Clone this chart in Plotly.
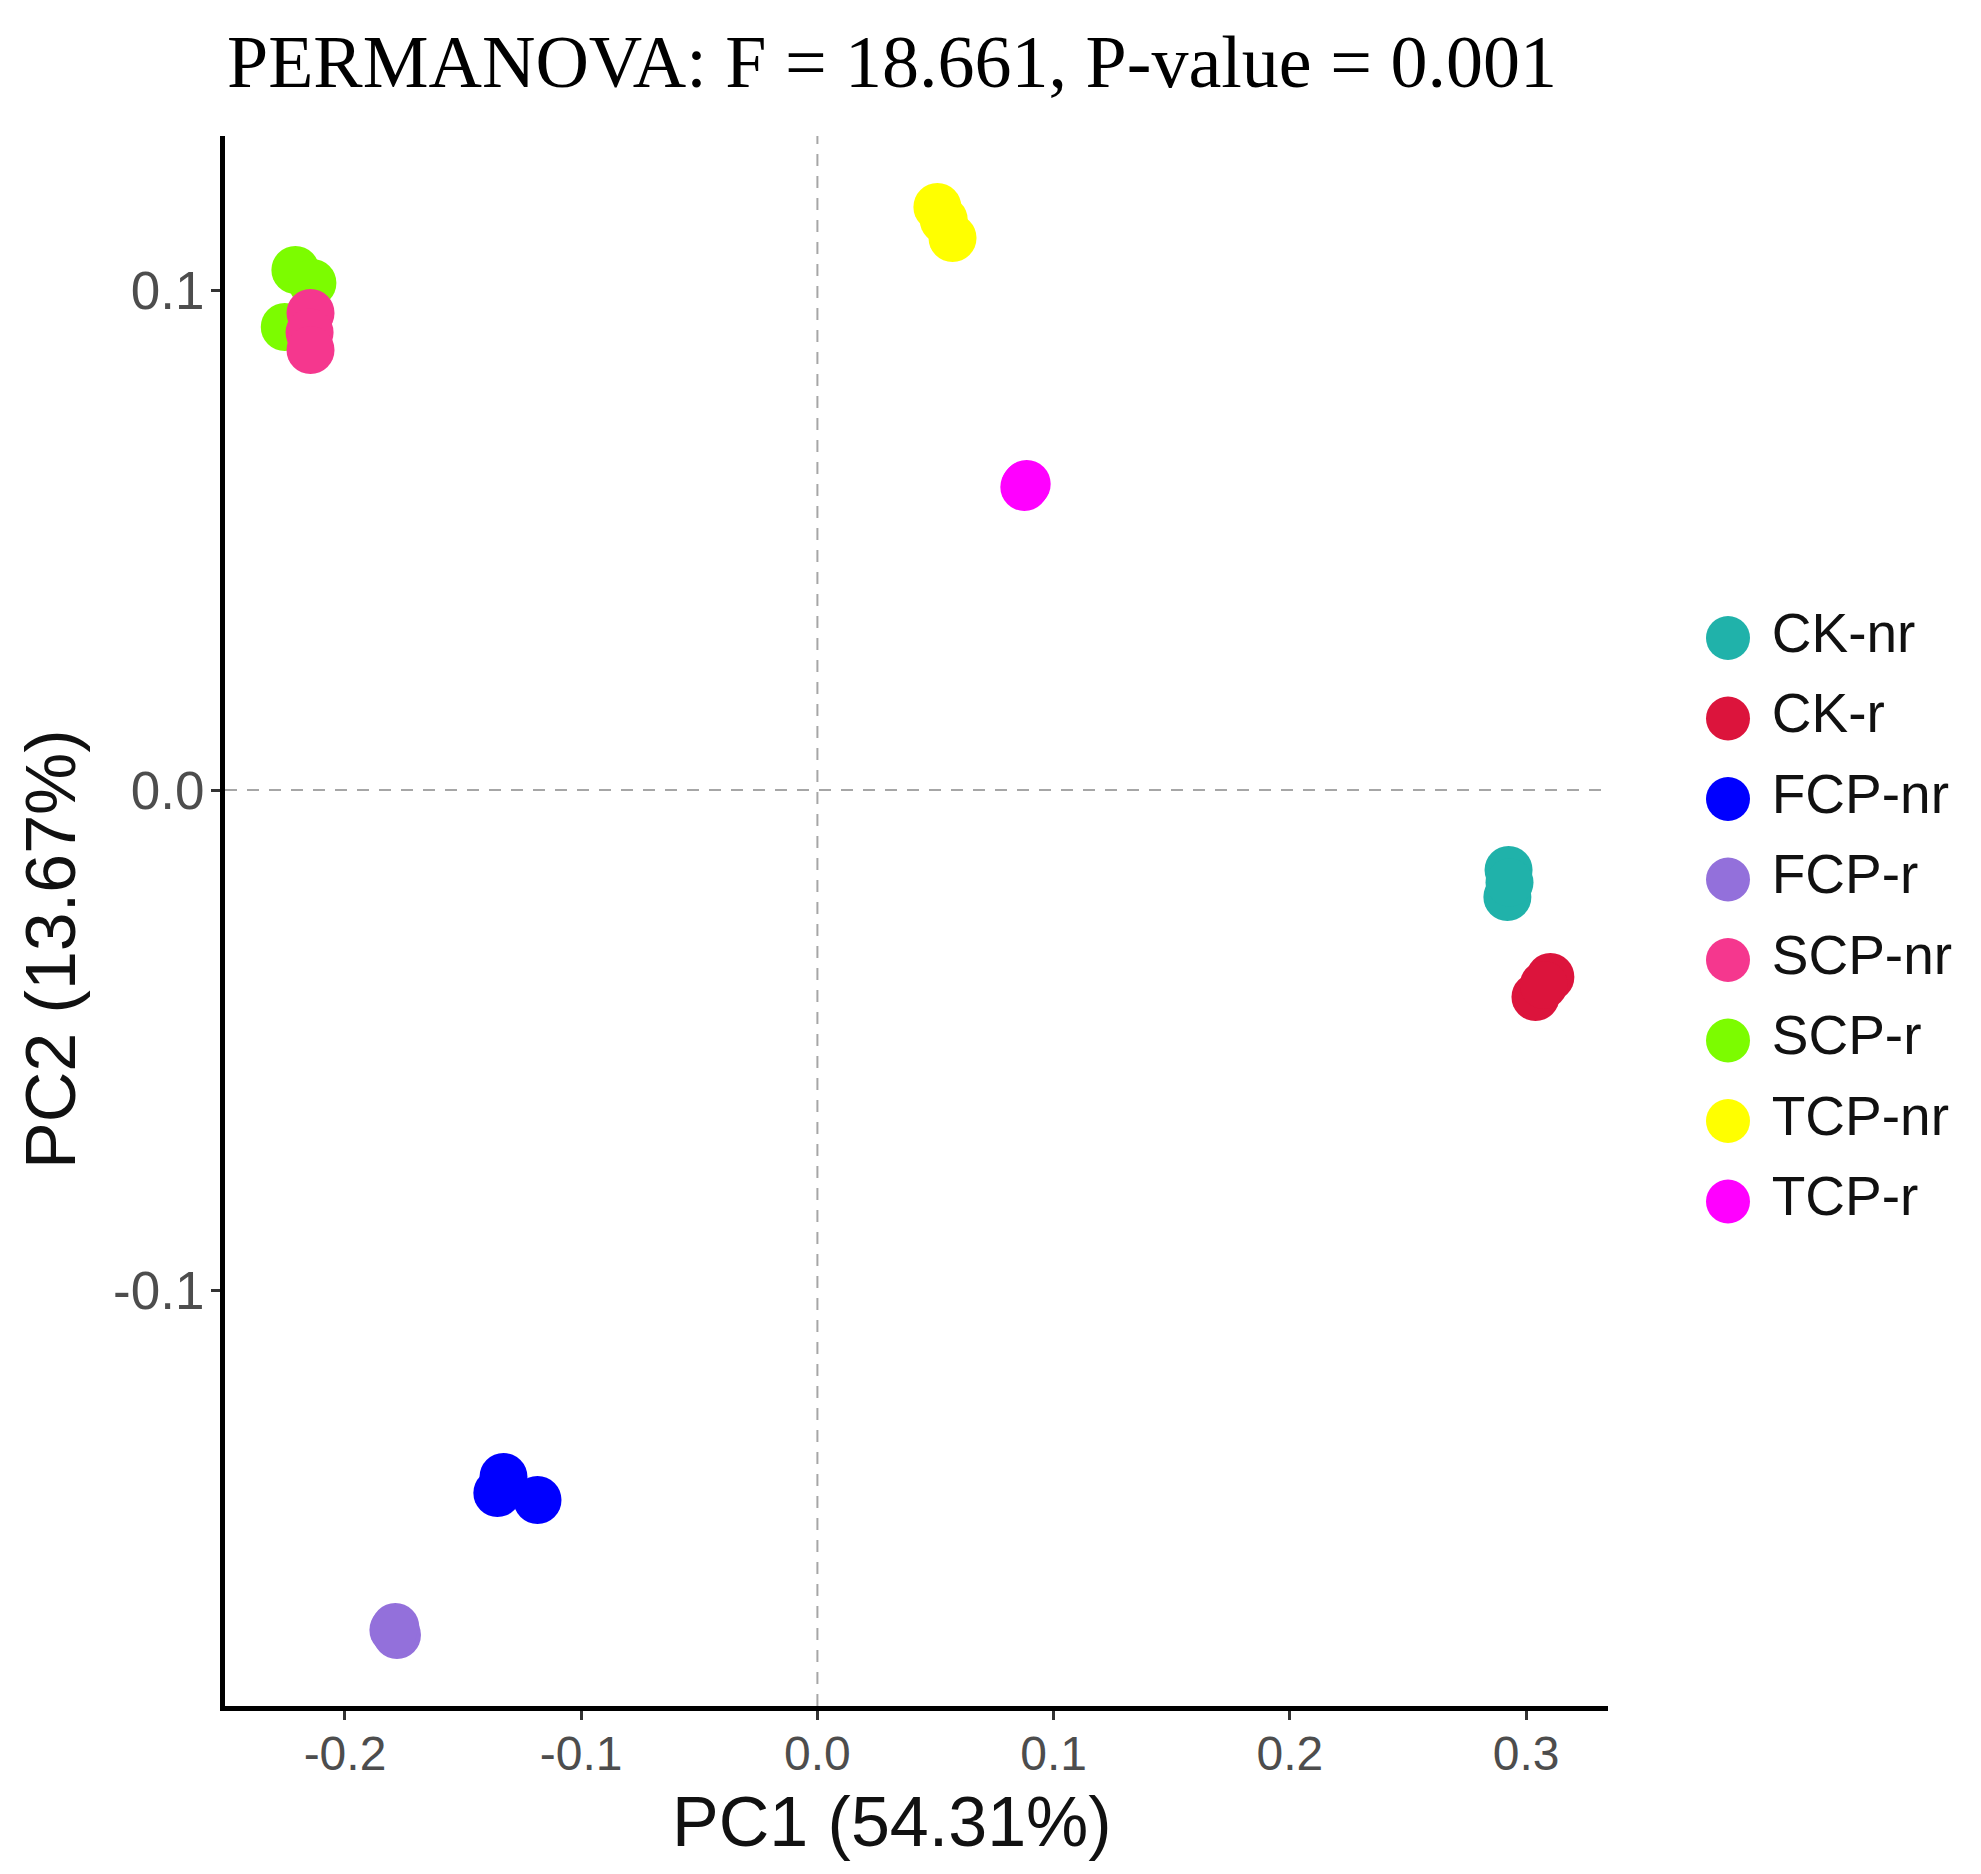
import plotly.graph_objects as go

# ---------- data ----------
groups = ["CK-nr", "CK-r", "FCP-nr", "FCP-r", "SCP-nr", "SCP-r", "TCP-nr", "TCP-r"]
colors = ["#20B2AA", "#DC143C", "#0000FF", "#9370DB",
          "#F5378E", "#7CFC00", "#FFFF00", "#FF00FF"]

pc1 = {
    "CK-nr": [0.2926, 0.2921, 0.2930],
    "CK-r": [0.3103, 0.3040, 0.3075],
    "FCP-nr": [-0.1329, -0.1355, -0.1185],
    "FCP-r": [-0.1787, -0.1780, -0.1795],
    "SCP-nr": [-0.2146, -0.2150, -0.2146],
    "SCP-r": [-0.2210, -0.2138, -0.2255],
    "TCP-nr": [0.0508, 0.0572, 0.0535],
    "TCP-r": [0.0881, 0.0886, 0.0876],
}
pc2 = {
    "CK-nr": [-0.0160, -0.0214, -0.0185],
    "CK-r": [-0.0374, -0.0414, -0.0390],
    "FCP-nr": [-0.1374, -0.1406, -0.1420],
    "FCP-r": [-0.1674, -0.1690, -0.1680],
    "SCP-nr": [0.0954, 0.0915, 0.0880],
    "SCP-r": [0.1040, 0.1014, 0.0926],
    "TCP-nr": [0.1166, 0.1104, 0.1140],
    "TCP-r": [0.0610, 0.0612, 0.0606],
}

x_ticks = [-0.2, -0.1, 0.0, 0.1, 0.2, 0.3]
x_ticklabels = ["-0.2", "-0.1", "0.0", "0.1", "0.2", "0.3"]
y_ticks = [-0.1, 0.0, 0.1]
y_ticklabels = ["-0.1", "0.0", "0.1"]

title_text = "PERMANOVA: F = 18.661, P-value = 0.001"
x_title = "PC1 (54.31%)"
y_title = "PC2 (13.67%)"

# SCP-nr sits on top of SCP-r in the original
draw_order = ["CK-nr", "CK-r", "FCP-nr", "FCP-r", "SCP-r", "SCP-nr", "TCP-nr", "TCP-r"]

# ---------- geometry (figure pixels; page has an 8px body margin) ----------
W, H = 1981, 1874
OFF = 8
ML, MR, MT = 225 - OFF, 10, 136 - OFF
MB = H - (1706 - OFF)
plot_w = W - ML - MR
plot_h = H - MT - MB
plot_right = 1608 - OFF
main_dom = (plot_right - ML) / plot_w
leg_dom0 = 0.80
leg_left = ML + leg_dom0 * plot_w
leg_marker_x = 1728 - OFF
leg_span = (W - MR) - leg_left
leg_x0 = -(leg_marker_x - leg_left) / leg_span
leg_row0, leg_step = 638 - OFF, 80.5
y_top_val = -(leg_row0 - MT) / leg_step
y_bot_val = ((H - MB) - leg_row0) / leg_step

SANS = "Liberation Sans, Arial, sans-serif"
SERIF = "Liberation Serif, Times New Roman, serif"
MSIZE = 48
DASH = dict(color="#A6A6A6", width=2, dash="12px,10px")

fig = go.Figure()

cmap = dict(zip(groups, colors))
for g in draw_order:
    fig.add_trace(go.Scatter(
        x=pc1[g], y=pc2[g], mode="markers", name=g, showlegend=False,
        marker=dict(size=MSIZE, color=cmap[g], line=dict(width=0)),
    ))

# legend drawn as a small scatter on its own axes
fig.add_trace(go.Scatter(
    x=[0] * len(groups), y=list(range(len(groups))),
    mode="markers+text", text=["\u00a0" + g for g in groups],
    textposition="middle right",
    textfont=dict(family=SANS, size=55, color="#111111"),
    marker=dict(size=44, color=colors, line=dict(width=0)),
    xaxis="x2", yaxis="y2", showlegend=False, hoverinfo="skip",
))

axis_common = dict(
    showgrid=False, zeroline=False, showline=True, linecolor="black",
    linewidth=5, ticks="outside", ticklen=9, tickwidth=3, tickcolor="#333333",
)

fig.update_layout(
    width=W, height=H,
    margin=dict(l=ML, r=MR, t=MT, b=MB),
    plot_bgcolor="white", paper_bgcolor="white",
    title=dict(text=title_text, font=dict(family=SERIF, size=74, color="black"),
               xref="container", x=(227 - OFF) / W, xanchor="left",
               yref="container", y=1 - 53 / H, yanchor="middle"),
    xaxis=dict(
        domain=[0, main_dom], range=[-0.2508, 0.3347],
        tickvals=x_ticks, ticktext=x_ticklabels, ticklabelstandoff=-8,
        tickfont=dict(family=SANS, size=48, color="#4D4D4D"),
        **axis_common,
    ),
    yaxis=dict(
        domain=[0, 1], range=[-0.1832, 0.1308],
        tickvals=y_ticks, ticktext=y_ticklabels, ticklabelstandoff=-4,
        tickfont=dict(family=SANS, size=53, color="#4D4D4D"),
        **axis_common,
    ),
    xaxis2=dict(domain=[leg_dom0, 1], range=[leg_x0, leg_x0 + 1], visible=False),
    yaxis2=dict(domain=[0, 1], range=[y_bot_val, y_top_val], visible=False,
                anchor="x2"),
    shapes=[
        dict(type="line", xref="x", yref="y domain", x0=0, x1=0, y0=0, y1=1,
             line=DASH, layer="below"),
        dict(type="line", xref="x domain", yref="y", x0=0, x1=1, y0=0, y1=0,
             line=DASH, layer="below"),
    ],
    annotations=[
        dict(text=x_title, xref="paper", yref="paper",
             x=(892 - OFF - ML) / plot_w, y=-(1822 - OFF - (H - MB)) / plot_h,
             xanchor="center", yanchor="middle", showarrow=False,
             font=dict(family=SANS, size=70, color="#111111")),
        dict(text=y_title, xref="paper", yref="paper", textangle=-90,
             x=-(ML - (51 - OFF)) / plot_w, y=1 - (949 - OFF - MT) / plot_h,
             xanchor="center", yanchor="middle", showarrow=False,
             font=dict(family=SANS, size=70, color="#111111")),
    ],
)

fig.write_html("out.html")
